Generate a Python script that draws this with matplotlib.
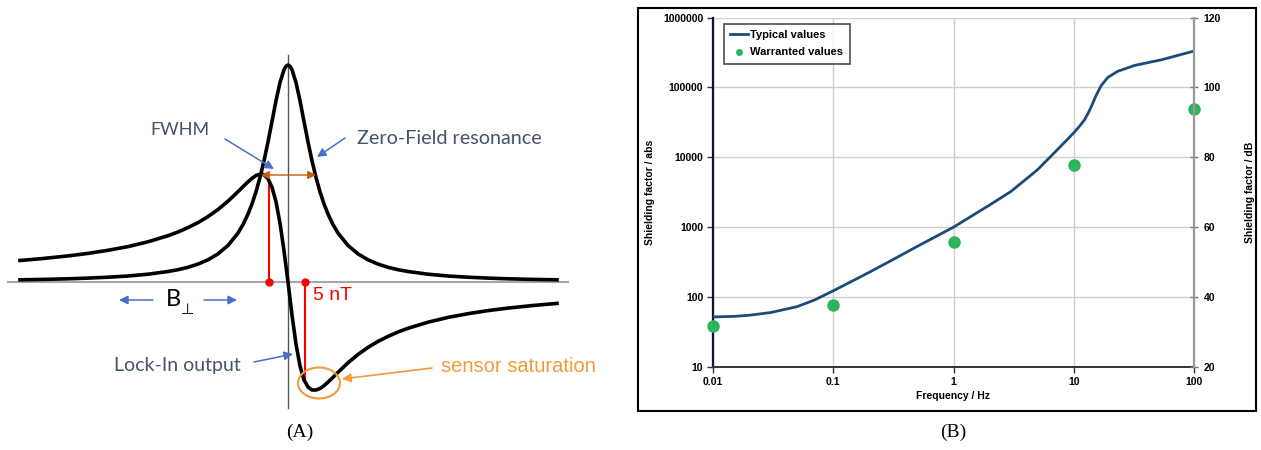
import matplotlib.pyplot as plt
from matplotlib.patches import Ellipse, Rectangle
from matplotlib.ticker import FixedLocator, FixedFormatter, NullLocator

# ---- panel A: schematic resonance (x: field offset, y: signal, arbitrary units)
res_field = [-268, -245, -220, -200, -180, -160, -140, -120, -110, -100, -90, -80, -70, -60, -50,
             -45, -40, -36, -32, -28, -24, -20, -16, -12, -8, -4, -2, 0,
             2, 4, 8, 12, 16, 20, 24, 28, 32, 36, 40, 45, 50, 60, 70, 80, 90, 100, 110,
             120, 140, 160, 180, 200, 220, 245, 269]
res_signal = [2.2, 2.6, 3.2, 3.9, 4.8, 6.0, 7.8, 10.5, 12.3, 14.7, 17.9, 22.2, 28.1, 36.5, 49.0,
              57.4, 67.9, 78.1, 90.2, 104.6, 121.2, 140.1, 160.6, 181.2, 199.5, 212.3, 215.8, 217,
              215.8, 212.3, 199.5, 181.2, 160.6, 140.1, 121.2, 104.6, 90.2, 78.1, 67.9, 57.4, 49.0,
              36.5, 28.1, 22.2, 17.9, 14.7, 12.3, 10.5, 7.8, 6.0, 4.8, 3.9, 3.2, 2.6, 2.2]

lockin_field = [-268, -245, -220, -200, -180, -160, -140, -120, -110, -100, -90, -80, -70, -60, -50,
                -45, -40, -36, -32, -28, -24, -20, -16, -12, -8, -4, 0,
                4, 8, 12, 16, 20, 24, 28, 32, 36, 40, 45, 50, 60, 70, 80, 90, 100, 110,
                120, 140, 160, 180, 200, 220, 245, 269]
lockin_signal = [21.5, 23.5, 26.1, 28.6, 31.7, 35.4, 40.2, 46.3, 50.0, 54.4, 59.4, 65.4, 72.5, 80.8, 90.3,
                 95.3, 100.2, 103.7, 106.5, 107.9, 107.3, 103.3, 94.7, 80.2, 58.8, 31.3, 0,
                 -33, -62, -84, -98, -105, -108, -108, -106.5, -103.7, -100.2, -95.3, -90.3, -80.8,
                 -72.5, -65.4, -59.4, -54.4, -50.0, -46.3, -40.2, -35.4, -31.7, -28.6, -26.1, -23.5, -21.4]

# ---- panel B: shielding factor
freq = [0.01, 0.015, 0.02, 0.03, 0.05, 0.07, 0.1, 0.2, 0.3, 0.5, 1, 2, 3, 5, 7.8, 10, 11.2, 12.3,
        13.1, 13.9, 15.3, 16.9, 19.2, 23.2, 32, 53.4, 100]
typical = [52, 53, 55, 60, 73, 91, 123, 227, 330, 532, 1000, 2080, 3240, 6640, 14400, 22400, 28000,
           34500, 42000, 51700, 76000, 106000, 139000, 170000, 206000, 248000, 331000]
warr_freq = [0.01, 0.1, 1, 10, 100]
warranted = [38.6, 76.7, 615, 7830, 48600]

x_ticks = [0.01, 0.1, 1, 10, 100]
x_labels = ['0.01', '0.1', '1', '10', '100']
y_ticks = [10, 100, 1000, 10000, 100000, 1000000]
y_labels = ['10', '100', '1000', '10000', '100000', '1000000']
db_ticks = [20, 40, 60, 80, 100, 120]

W, H = 1261, 450
fig = plt.figure(figsize=(W / 100, H / 100), dpi=100)

txt_font = ['Lato', 'DejaVu Sans']
arial = ['Liberation Sans', 'DejaVu Sans']
slate = '#44546A'
blue = '#4472C4'
orange = '#F39A3A'

# ================= panel A =================
axA = fig.add_axes([0, 0, 600 / W, 1])
axA.set_xlim(-288, 312)
axA.set_ylim(-168, 282)
axA.axis('off')

axA.plot([-280, 280], [0, 0], color='#A6A6A6', lw=1.5, zorder=1)
axA.plot([0, 0], [-126, 227], color='#555555', lw=1, zorder=1)
axA.plot(res_field, res_signal, color='black', lw=2.6, solid_joinstyle='round', zorder=3)
axA.plot(lockin_field, lockin_signal, color='black', lw=2.6, solid_joinstyle='round', zorder=3)

# red markers (5 nT)
axA.plot([-19, -19], [0, 102], color='red', lw=1.5, zorder=2)
axA.plot([17, 17], [0, -97], color='red', lw=1.5, zorder=2)
axA.plot([-19, 17], [0, 0], 'o', color='red', ms=5, zorder=4)
axA.text(25, -13, '5 nT', color='red', fontsize=14, family=arial, va='center', ha='left')

# FWHM arrow
axA.annotate('', xy=(28, 107), xytext=(-27, 107),
             arrowprops=dict(arrowstyle='<|-|>', color='#C55A11', lw=1, mutation_scale=12,
                             shrinkA=0, shrinkB=0), zorder=5)

arrow_kw = dict(arrowstyle='-|>', color=blue, lw=1.1, mutation_scale=13, shrinkA=0, shrinkB=0)
axA.text(-108, 152, 'FWHM', color=slate, fontsize=13, family=txt_font, ha='center', va='center')
axA.annotate('', xy=(-14, 113), xytext=(-63, 143), arrowprops=arrow_kw)
axA.text(69, 143, 'Zero-Field resonance', color=slate, fontsize=14.2, family=txt_font,
         ha='left', va='center')
axA.annotate('', xy=(29, 125), xytext=(57, 144), arrowprops=arrow_kw)
axA.text(-111, -83, 'Lock-In output', color=slate, fontsize=14, family=txt_font,
         ha='center', va='center')
axA.annotate('', xy=(5, -72), xytext=(-34, -80), arrowprops=arrow_kw)

# B perp
axA.text(-115, -18, 'B', color='black', fontsize=17, family=txt_font, ha='center', va='center')
axA.text(-101, -28, '\u22a5', color='black', fontsize=11, family=txt_font, ha='center', va='center')
axA.annotate('', xy=(-169, -18), xytext=(-135, -18), arrowprops=arrow_kw)
axA.annotate('', xy=(-51, -18), xytext=(-84, -18), arrowprops=arrow_kw)

# sensor saturation
axA.add_patch(Ellipse((31, -101), 42, 31, fill=False, edgecolor=orange, lw=1.5, zorder=4))
axA.annotate('', xy=(54, -97), xytext=(144, -86),
             arrowprops=dict(arrowstyle='-|>', color=orange, lw=1.2, mutation_scale=13,
                             shrinkA=0, shrinkB=0))
axA.text(153, -85, 'sensor saturation', color=orange, fontsize=14.5, family=arial,
         ha='left', va='center')

# ================= panel B =================
fig.patches.append(Rectangle((638 / W, 1 - 411 / H), 618 / W, 403 / H, transform=fig.transFigure,
                             fill=False, edgecolor='black', lw=1.5))

axB = fig.add_axes([713 / W, 1 - 367 / H, 481 / W, 349.5 / H])
axB.set_xscale('log')
axB.set_yscale('log')
axB.set_xlim(0.01, 100)
axB.set_ylim(10, 1000000)

bold = dict(family=arial, fontweight='bold', fontsize=7.5)

axB.xaxis.set_major_locator(FixedLocator(x_ticks))
axB.xaxis.set_major_formatter(FixedFormatter(x_labels))
axB.xaxis.set_minor_locator(NullLocator())
axB.yaxis.set_major_locator(FixedLocator(y_ticks))
axB.yaxis.set_major_formatter(FixedFormatter(y_labels))
axB.yaxis.set_minor_locator(NullLocator())
for lab in axB.get_xticklabels() + axB.get_yticklabels():
    lab.set(**bold)
axB.tick_params(direction='out', length=4, width=1, pad=3, color='#333333')
axB.grid(True, color='#CFCFCF', lw=1)
axB.set_axisbelow(True)

axB.spines['top'].set_visible(False)
axB.spines['right'].set_visible(False)
axB.spines['left'].set_linewidth(1.6)
axB.spines['left'].set_color('#111133')
axB.spines['bottom'].set_linewidth(1.4)
axB.spines['bottom'].set_color('#333333')

axB.set_xlabel('Frequency / Hz', labelpad=3, **bold)
axB.set_ylabel('Shielding factor / abs', labelpad=6, **bold)

line, = axB.plot(freq, typical, color='#1B4B7A', lw=2, label='Typical values', zorder=3)
dots, = axB.plot(warr_freq, warranted, 'o', color='#2DB55D', ms=9, mec='none',
                 clip_on=False, label='Warranted values', zorder=4)

leg = axB.legend(handles=[line, dots], loc='upper left', bbox_to_anchor=(0.012, 0.997),
                 frameon=True, fancybox=False, handlelength=1.6, handletextpad=0.2,
                 borderpad=0.55, labelspacing=0.65, prop=dict(family='Liberation Sans',
                                                             weight='bold', size=8))
leg.get_frame().set_edgecolor('#222222')
leg.get_frame().set_linewidth(1.2)
leg.legend_handles[1].set_markersize(5)

axR = axB.twinx()
axR.set_ylim(20, 120)
axR.set_yticks(db_ticks)
axR.set_yticklabels([str(t) for t in db_ticks])
for lab in axR.get_yticklabels():
    lab.set(**bold)
axR.tick_params(direction='inout', length=6, width=1, pad=4, color='#777777')
for s in ['top', 'left', 'bottom']:
    axR.spines[s].set_visible(False)
axR.spines['right'].set_color('#9A9A9A')
axR.spines['right'].set_linewidth(1.6)
axR.set_ylabel('Shielding factor / dB', labelpad=17, **bold)

# captions
cap = dict(family=['Liberation Serif', 'DejaVu Serif'], fontsize=14, ha='center', va='center')
fig.text(300 / W, 1 - 432 / H, '(A)', **cap)
fig.text(953 / W, 1 - 432 / H, '(B)', **cap)

fig.savefig('out.png', dpi=100)
